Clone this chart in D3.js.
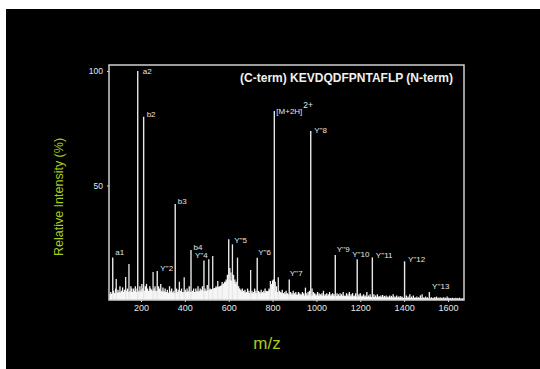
<!DOCTYPE html>
<html>
<head>
<meta charset="utf-8">
<script src="https://cdn.jsdelivr.net/npm/d3@7"></script>
<style>
  html, body { margin: 0; padding: 0; background: #fff; }
  svg { display: block; font-family: "Liberation Sans", Arial, Helvetica, sans-serif; }
</style>
</head>
<body>
<svg id="chart" width="540" height="369"></svg>
<script>
// labelled fragment peaks (m/z, relative intensity %)
const peakNames = ['a1', 'a2', 'b2', 'b3', 'b4', "Y''2", "Y''4", "Y''5", "Y''6", '[M+2H]', "Y''7", "Y''8", "Y''9", "Y''10", "Y''11", "Y''12", "Y''13"];
const peakMz    = [71, 185, 212, 356, 428, 274, 487, 600, 730, 808, 876, 974, 1086, 1186, 1255, 1402, 1515];
const peakInt   = [18.6, 100, 80, 41.9, 21.8, 12.7, 17.2, 26.5, 18.5, 82.5, 9, 73.8, 19.7, 17.8, 18.6, 16.9, 3.5];

// other visible lines without a label
const minorMz  = [87, 130, 145, 255, 375, 397, 509, 527, 550, 570, 617, 640, 700, 790, 826];
const minorInt = [9.2, 10, 15.7, 12.2, 8, 9.9, 17.8, 19.2, 8.3, 7.9, 24.3, 18.5, 13.1, 8.3, 9.9];

// background grass
const noise = [
  [58,2],[62,3.5],[66,2.5],[75,4],[80,3],[84,5],[91,3],[95,4.5],[100,3.5],[104,6],[108,3],[112,4],[116,5.5],
  [120,3],[124,4.5],[134,4],[138,5],[150,4],[154,6],[158,5],[162,3.5],[166,5],[170,4],[174,6],[178,3.5],
  [182,5],[190,4],[195,6],[200,4.5],[204,7],[208,5],[216,4],[220,6],[225,7],[230,5],[234,4],[240,6],[244,5],
  [248,4.5],[260,5],[264,6],[268,4],[280,6],[284,5],[290,7],[295,4],[300,5.5],[305,4],[310,5],[315,3.5],
  [320,4.5],[325,3],[330,6],[336,4],[340,5],[345,3.5],[350,4],[362,5],[366,3.5],[370,4.5],[380,4],[385,5],
  [390,3.5],[402,4.5],[406,3.5],[410,5],[415,4],[420,6],[434,4],[440,5],[445,3.5],[450,5],[455,4],[460,6],
  [465,4],[470,5],[475,4.5],[480,6],[492,5],[497,4],[502,6.5],[515,5],[520,4],[532,5],[537,4],[542,6],
  [556,5],[562,6],[576,6],[582,8],[588,9],[594,11],[605,14],[610,12],[622,11],[628,9],[634,8],[645,6],
  [650,5],[656,4.5],[662,5],[668,4],[674,4.5],[680,3.5],[686,5],[692,4],[706,4],[712,3.5],[718,5],[724,4],
  [736,4],[742,3.5],[748,4.5],[754,3.5],[760,4],[766,5],[772,4],[778,3.5],[784,5],[796,7],[800,8.5],
  [804,9],[812,8],[818,6],[832,4],[838,3.5],[844,4.5],[850,3],[856,3.5],[862,4],[868,3],[882,3.5],[888,3],
  [894,4],[900,3],[906,3.5],[912,2.5],[918,3.5],[924,3],[930,2.5],[936,3.5],[942,3],[950,5.4],[956,3],
  [962,3.5],[968,4],[980,5],[986,3.5],[992,3],[998,2.5],[1005,3.5],[1012,3],[1018,2.5],[1025,3],[1032,4],
  [1040,2.5],[1047,3],[1054,2.5],[1060,3.5],[1067,2.5],[1074,3],[1080,2.5],[1094,3],[1100,2.5],[1108,3],
  [1115,2.5],[1122,3.5],[1130,2],[1137,3],[1144,2.5],[1150,3.5],[1158,2.5],[1165,3],[1172,2],[1179,3],
  [1194,2.5],[1200,3],[1208,2],[1215,2.5],[1222,2],[1230,3.5],[1238,2],[1245,2.5],[1262,2.5],[1270,2],
  [1278,2.5],[1286,1.8],[1294,2],[1302,2.2],[1310,1.8],[1318,2],[1326,1.5],[1334,2],[1342,1.8],[1350,2.5],
  [1358,1.5],[1366,2],[1374,1.5],[1382,1.8],[1390,1.5],[1410,2],[1418,1.5],[1426,2.5],[1434,1.5],[1442,2],
  [1450,1.2],[1458,1.5],[1466,1.2],[1474,2],[1482,2.5],[1490,1.2],[1498,1.5],[1506,1.2],[1524,1.2],
  [1532,1],[1540,1.3],[1548,1.5],[1556,1],[1564,1.2],[1572,1],[1580,1.2],[1588,1],[1596,1.5],[1604,1],
  [1612,0.8],[1620,1],[1628,0.8],[1636,1],[1644,0.8],[1652,1],[1660,0.7],[1668,0.8]
];

// solid floor under the grass
const floor = [
  [55,2.5],[80,3],[120,3.5],[160,3.5],[200,3.5],[250,4],[300,3.5],[350,3],[400,3.5],[450,3.5],[500,4],
  [560,6],[600,9],[625,8],[660,3.5],[700,3],[760,3],[800,5],[820,3.5],[860,2.5],[950,2],[1000,2],
  [1100,1.7],[1200,1.5],[1300,1.2],[1400,1],[1500,0.8],[1673,0.6]
];

const xTicks = [200, 400, 600, 800, 1000, 1200, 1400, 1600];
const yTicks = [50, 100];
const title = '(C-term) KEVDQDFPNTAFLP (N-term)';

// label offsets from the top of each labelled peak (dx, dy in px)
const labelOffset = {
  'a1': [2.5, -5], 'a2': [5, 0], 'b2': [3, -3], 'b3': [2.5, -3], 'b4': [2.5, -3],
  "Y''2": [3, -3], "Y''4": [-9, -5.5], "Y''5": [5.5, 1], "Y''6": [1, -5], '[M+2H]': [2, 0.5],
  "Y''7": [0.5, -6], "Y''8": [3.5, -1], "Y''9": [1.5, -6], "Y''10": [-5, -5], "Y''11": [3.5, -2.5],
  "Y''12": [3.3, -2.3], "Y''13": [2.7, -5.4]
};

const svg = d3.select('#chart');
const plot = { left: 109, right: 464, top: 65, bottom: 300 };

svg.append('rect')
  .attr('x', 6).attr('y', 9)
  .attr('width', 534).attr('height', 360)
  .attr('fill', '#000');

const x = d3.scaleLinear().domain([54, 1673]).range([plot.left, plot.right]);
const y = d3.scaleLinear().domain([0, 102.6]).range([plot.bottom, plot.top]);

// floor area
svg.append('path')
  .datum(floor)
  .attr('d', d3.area().x(d => x(d[0])).y0(y(0)).y1(d => y(d[1])))
  .attr('fill', '#f4f4f4');

// grass lines
svg.append('g').selectAll('line')
  .data(noise)
  .enter().append('line')
  .attr('x1', d => x(d[0])).attr('x2', d => x(d[0]))
  .attr('y1', y(0)).attr('y2', d => y(d[1]))
  .attr('stroke', '#f6f6f6')
  .attr('stroke-width', 1.3);

const minor = minorMz.map((m, i) => ({ mz: m, v: minorInt[i] }));
svg.append('g').selectAll('line')
  .data(minor)
  .enter().append('line')
  .attr('x1', d => x(d.mz)).attr('x2', d => x(d.mz))
  .attr('y1', y(0)).attr('y2', d => y(d.v))
  .attr('stroke', '#e8e8e8')
  .attr('stroke-width', 1.3);

const peaks = peakNames.map((n, i) => ({ name: n, mz: peakMz[i], v: peakInt[i] }));
svg.append('g').selectAll('line')
  .data(peaks)
  .enter().append('line')
  .attr('x1', d => x(d.mz)).attr('x2', d => x(d.mz))
  .attr('y1', y(0)).attr('y2', d => y(d.v))
  .attr('stroke', '#e8e8e8')
  .attr('stroke-width', 1.4);

const labels = svg.append('g')
  .attr('fill', '#e6e6e6')
  .attr('font-size', 8)
  .selectAll('text')
  .data(peaks)
  .enter().append('text')
  .attr('x', d => x(d.mz) + labelOffset[d.name][0])
  .attr('y', d => y(d.v) + labelOffset[d.name][1])
  .attr('dy', '0.35em')
  .text(d => d.name);

labels.filter(d => d.name === '[M+2H]')
  .append('tspan')
  .attr('dy', '-0.8em')
  .attr('dx', '1')
  .attr('font-size', 8.5)
  .text('2+');

// frame
svg.append('rect')
  .attr('x', plot.left).attr('y', plot.top)
  .attr('width', plot.right - plot.left).attr('height', plot.bottom - plot.top)
  .attr('fill', 'none')
  .attr('stroke', '#cfcfcf')
  .attr('stroke-width', 1.5);

const yAxis = svg.append('g')
  .attr('transform', `translate(${plot.left},0)`)
  .call(d3.axisLeft(y).tickValues(yTicks).tickSize(2).tickPadding(4));
yAxis.select('.domain').remove();
yAxis.selectAll('line').attr('stroke', '#cfcfcf');
yAxis.selectAll('text').attr('fill', '#e6e6e6').attr('font-size', 8.5)
  .attr('font-family', '"Liberation Sans", Arial, sans-serif');

const xAxis = svg.append('g')
  .attr('transform', `translate(0,${plot.bottom})`)
  .call(d3.axisBottom(x).tickValues(xTicks).tickFormat(d3.format('d')).tickSize(2).tickPadding(3));
xAxis.select('.domain').remove();
xAxis.selectAll('line').attr('stroke', '#cfcfcf');
xAxis.selectAll('text').attr('fill', '#e6e6e6').attr('font-size', 9)
  .attr('font-family', '"Liberation Sans", Arial, sans-serif');

svg.append('text')
  .attr('x', 453).attr('y', 82)
  .attr('text-anchor', 'end')
  .attr('font-size', 12)
  .attr('font-weight', 'bold')
  .attr('fill', '#f0f0f0')
  .text(title);

svg.append('text')
  .attr('transform', 'translate(63,197) rotate(-90)')
  .attr('text-anchor', 'middle')
  .attr('font-size', 12.5)
  .attr('fill', '#a8cc1c')
  .text('Relative Intensity (%)');

svg.append('text')
  .attr('x', 267).attr('y', 349)
  .attr('text-anchor', 'middle')
  .attr('font-size', 17)
  .attr('fill', '#a8cc1c')
  .text('m/z');
</script>
</body>
</html>
